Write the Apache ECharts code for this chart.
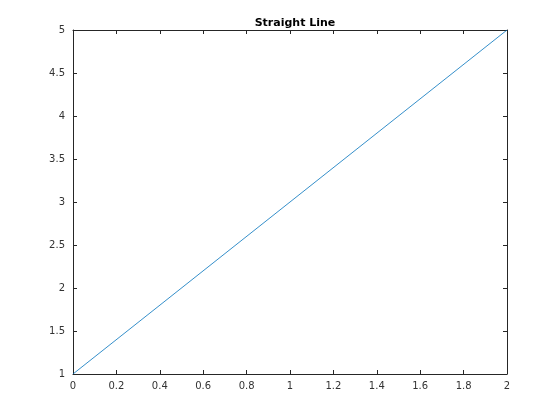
<!DOCTYPE html>
<html><head><meta charset="utf-8">
<script src="https://cdn.jsdelivr.net/npm/echarts@6/dist/echarts.min.js"></script>
<style>html,body{margin:0;padding:0;background:#fff}#c{width:560px;height:420px}</style>
</head><body><div id="c"></div>
<script>
const xValues = [0, 2];
const yValues = [1, 5];
const titleText = 'Straight Line';

const chart = echarts.init(document.getElementById('c'), null, {renderer: 'canvas'});
const axisCol = '#262626';
const font = 'DejaVu Sans';
function xa(pos, show) {
  return {type: 'value', position: pos, min: 0, max: 2, interval: 0.2,
    axisLine: {show: true, onZero: false, lineStyle: {color: axisCol, width: 1}},
    axisTick: {show: true, inside: true, length: 4, lineStyle: {color: axisCol}},
    axisLabel: {show: show, color: '#333', fontFamily: font, fontSize: 10, margin: 7},
    splitLine: {show: false}};
}
function ya(pos, show) {
  return {type: 'value', position: pos, min: 1, max: 5, interval: 0.5,
    axisLine: {show: true, onZero: false, lineStyle: {color: axisCol, width: 1}},
    axisTick: {show: true, inside: true, length: 4, lineStyle: {color: axisCol}},
    axisLabel: {show: show, color: '#333', fontFamily: font, fontSize: 10, margin: 8},
    splitLine: {show: false}};
}
chart.setOption({
  animation: false,
  backgroundColor: '#fff',
  title: {text: titleText, left: 290, top: 13, textAlign: 'center',
    textStyle: {fontFamily: font, fontSize: 11, fontWeight: 'bold', color: '#000'}},
  grid: {left: 73, right: 53, top: 30, bottom: 46, containLabel: false},
  xAxis: [xa('bottom', true), xa('top', false)],
  yAxis: [ya('left', true), ya('right', false)],
  series: [{type: 'line', data: xValues.map((x, i) => [x, yValues[i]]),
    showSymbol: false, lineStyle: {color: '#0072BD', width: 0.8}}]
});
</script></body></html>
